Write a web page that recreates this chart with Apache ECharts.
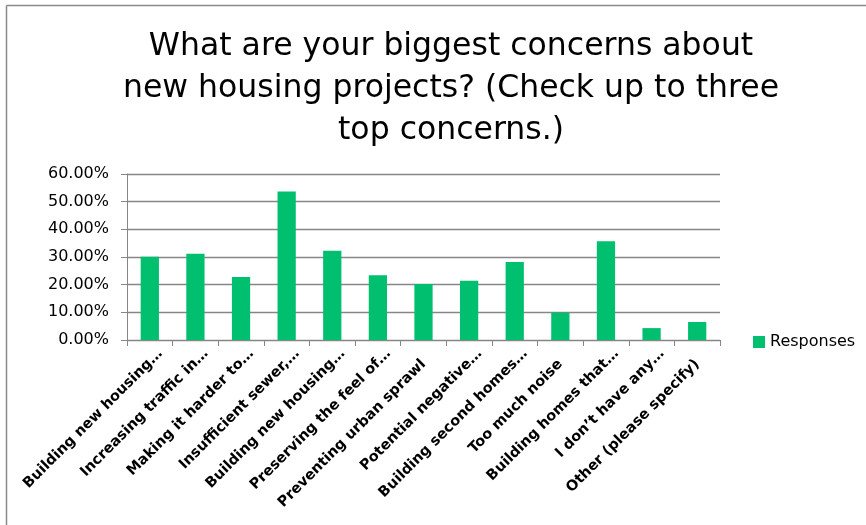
<!DOCTYPE html>
<html>
<head>
<meta charset="utf-8">
<script src="https://cdn.jsdelivr.net/npm/echarts@6/dist/echarts.min.js"></script>
<style>
html,body{margin:0;padding:0;background:#fff;}
#chart{width:866px;height:525px;}
</style>
</head>
<body>
<div id="chart"></div>
<script>
var titleText = 'What are your biggest concerns about\nnew housing projects? (Check up to three\ntop concerns.)';
var categories = [
  'Building new housing…',
  'Increasing traffic in…',
  'Making it harder to…',
  'Insufficient sewer,…',
  'Building new housing…',
  'Preserving the feel of…',
  'Preventing urban sprawl',
  'Potential negative…',
  'Building second homes…',
  'Too much noise',
  'Building homes that…',
  'I don’t have any…',
  'Other (please specify)'
];
var responses = [0.301, 0.312, 0.228, 0.537, 0.323, 0.234, 0.202, 0.214, 0.282, 0.099, 0.357, 0.043, 0.065];
var seriesName = 'Responses';

var gray = '#868686';
// truncated labels (ending with an ellipsis) run slightly past the tick centre
var categoryItems = categories.map(function (c) {
  if (c.charAt(c.length - 1) === '…') {
    return { value: c, textStyle: { padding: [0, -15, 0, 0] } };
  }
  return c;
});

var chart = echarts.init(document.getElementById('chart'));
chart.setOption({
  animation: false,
  backgroundColor: '#ffffff',
  title: {
    text: titleText,
    left: 446,
    textAlign: 'center',
    top: 21,
    textStyle: {
      fontFamily: 'DejaVu Sans',
      fontWeight: 'normal',
      fontSize: 31.5,
      lineHeight: 42,
      color: '#000'
    }
  },
  legend: {
    left: 748,
    top: 329,
    itemWidth: 12,
    itemHeight: 12,
    itemGap: 5,
    icon: 'rect',
    data: [seriesName],
    textStyle: { fontFamily: 'DejaVu Sans', fontSize: 16, color: '#000' }
  },
  grid: { left: 127, right: 146, top: 174, bottom: 185, containLabel: false },
  xAxis: {
    type: 'category',
    data: categoryItems,
    boundaryGap: true,
    axisLine: { show: true, lineStyle: { color: gray, width: 1 } },
    axisTick: { show: true, length: 6, lineStyle: { color: gray } },
    axisLabel: {
      interval: 0,
      rotate: 45,
      margin: 22,
      fontFamily: 'DejaVu Sans',
      fontWeight: 'bold',
      fontSize: 14.5,
      color: '#000'
    },
    splitLine: { show: false }
  },
  yAxis: {
    type: 'value',
    min: 0,
    max: 0.6,
    interval: 0.1,
    axisLine: { show: true, lineStyle: { color: gray, width: 1 } },
    axisTick: { show: true, length: 6, lineStyle: { color: gray } },
    axisLabel: {
      margin: 18,
      fontFamily: 'DejaVu Sans',
      fontSize: 16,
      color: '#000',
      formatter: function (v) { return (v * 100).toFixed(2) + '%'; }
    },
    splitLine: { show: true, lineStyle: { color: gray, width: 1.3 } }
  },
  series: [{
    name: seriesName,
    type: 'bar',
    data: responses,
    barWidth: '40%',
    itemStyle: { color: '#00BF6F' }
  }],
  graphic: [
    { type: 'line', shape: { x1: 6.5, y1: 5.5, x2: 866, y2: 5.5 }, style: { stroke: '#8a8a8a', lineWidth: 1.5 } },
    { type: 'line', shape: { x1: 6.5, y1: 5.5, x2: 6.5, y2: 525 }, style: { stroke: '#8a8a8a', lineWidth: 1.5 } }
  ]
});
</script>
</body>
</html>
